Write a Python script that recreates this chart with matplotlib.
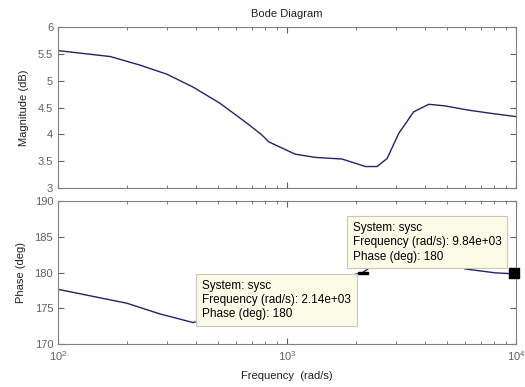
import numpy as np
import matplotlib
matplotlib.use("Agg")
import matplotlib.pyplot as plt
from matplotlib.ticker import LogLocator, NullFormatter, FixedLocator

plt.rcParams['font.family'] = ['Liberation Sans', 'DejaVu Sans']

# magnitude curve
freq_mag = [100, 169, 228, 299, 389, 509, 667, 776, 832, 1086, 1330, 1738,
            2198, 2472, 2735, 3076, 3573, 4159, 4898, 6209, 8128, 10000]
mag_db = [5.56, 5.45, 5.29, 5.12, 4.88, 4.58, 4.21, 3.99, 3.86, 3.63, 3.57, 3.54,
          3.40, 3.40, 3.55, 4.02, 4.42, 4.56, 4.53, 4.45, 4.38, 4.33]

# phase curve (middle part is hidden under the data tips)
freq_ph = [100, 200, 279, 389, 700, 1200, 2140, 2500, 3500, 4500, 5500, 5980, 8130, 10000]
phase_deg = [177.65, 175.7, 174.2, 173.0, 175.0, 178.0, 180.0, 181.5, 183.0, 182.0,
             181.0, 180.5, 179.95, 179.8]

# data tips
tip_freq = [2140, 9840]
tip_phase = [180, 180]
tip_text = ["System: sysc\nFrequency (rad/s): 2.14e+03\nPhase (deg): 180",
            "System: sysc\nFrequency (rad/s): 9.84e+03\nPhase (deg): 180"]

line_col = '#23236a'
grey = '#606060'

fig = plt.figure(figsize=(5.25, 3.87), dpi=100)
ax1 = fig.add_axes([0.1105, 0.5142, 0.8725, 0.416])
ax2 = fig.add_axes([0.1105, 0.1111, 0.8725, 0.3695])

for ax in (ax1, ax2):
    ax.set_xscale('log')
    ax.set_xlim(100, 10000)
    ax.xaxis.set_major_locator(LogLocator(base=10, numticks=10))
    ax.xaxis.set_minor_locator(LogLocator(base=10, subs=np.arange(2, 10), numticks=10))
    ax.xaxis.set_minor_formatter(NullFormatter())
    ax.tick_params(which='both', direction='in', top=True, right=True,
                   colors=grey, labelsize=8, labelcolor=grey)
    ax.tick_params(which='major', length=4, width=0.8)
    ax.tick_params(which='minor', length=2.5, width=0.6)
    for s in ax.spines.values():
        s.set_color('#808080')
        s.set_linewidth(0.8)

ax1.plot(freq_mag, mag_db, color=line_col, lw=1.0)
ax1.set_ylim(3, 6)
ax1.yaxis.set_major_locator(FixedLocator([3, 3.5, 4, 4.5, 5, 5.5, 6]))
ax1.set_yticklabels(['3', '3.5', '4', '4.5', '5', '5.5', '6'])
ax1.xaxis.set_major_formatter(NullFormatter())
ax1.set_ylabel('Magnitude (dB)', fontsize=8, color='#202020', labelpad=6)
ax1.set_title('Bode Diagram', fontsize=8, color='#202020', pad=7)

ax2.plot(freq_ph, phase_deg, color=line_col, lw=1.0, zorder=2)
ax2.set_ylim(170, 190)
ax2.yaxis.set_major_locator(FixedLocator([170, 175, 180, 185, 190]))
ax2.set_ylabel('Phase (deg)', fontsize=8, color='#202020', labelpad=6)
ax2.set_xlabel('Frequency  (rad/s)', fontsize=8, color='#202020', labelpad=6)

flat = [(-1, -0.3), (1, -0.3), (1, 0.3), (-1, 0.3), (-1, -0.3)]
ax2.plot(tip_freq[0], tip_phase[0], marker=flat, ms=7, color='black', zorder=3, clip_on=False)
ax2.plot(tip_freq[1], tip_phase[1], marker='s', ms=6.5, color='black', zorder=6, clip_on=False)

box = dict(boxstyle='square,pad=0.5', fc='#fbfbe8', ec='#c8c8b8', lw=0.8)
ax2.annotate(tip_text[0], xy=(tip_freq[0], tip_phase[0]), xytext=(-12, -7),
             textcoords='offset pixels', ha='right', va='top', multialignment='left',
             fontsize=8.5, linespacing=1.25, bbox=box, zorder=5)
ax2.annotate(tip_text[1], xy=(tip_freq[1], tip_phase[1]), xytext=(-13, 10),
             textcoords='offset pixels', ha='right', va='bottom', multialignment='left',
             fontsize=8.5, linespacing=1.25, bbox=box, zorder=5)

fig.savefig('out.png', dpi=100)
